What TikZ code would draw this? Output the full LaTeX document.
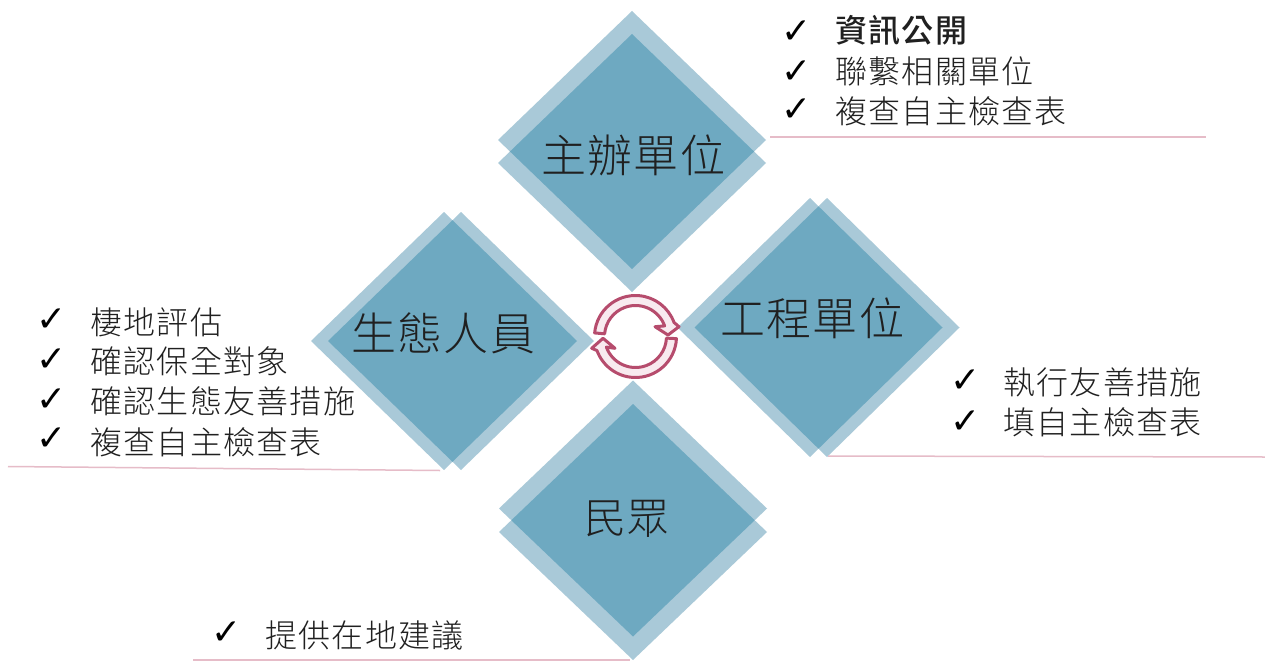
\documentclass[tikz,border=0pt]{standalone}
\usepackage{fontspec}
\usetikzlibrary{calc}
\newfontfamily\cjk[LetterSpace=4,BoldFont={Noto Sans CJK TC Medium}]{Noto Sans CJK TC Light}
\newfontfamily\cjkbig[LetterSpace=2.5]{Noto Sans CJK TC Light}
\newfontfamily\chk{DejaVu Sans}
\definecolor{gemlight}{HTML}{A9C9D8}
\definecolor{gemdark}{HTML}{6EA9C1}
\definecolor{rule}{HTML}{E6BCC8}
\definecolor{ringline}{HTML}{B64C6D}
\definecolor{ringfill}{HTML}{F8EAEF}
\definecolor{ink}{HTML}{202020}
\tikzset{
  x=1pt,y=-1pt,
  item/.style={anchor=base west,inner sep=0pt,text=ink,font=\cjk\fontsize{32}{32}\selectfont},
  tick/.style={anchor=center,inner sep=0pt,text=black,font=\chk\fontsize{36}{36}\selectfont},
  gemlabel/.style={anchor=base west,inner sep=0pt,text=ink,font=\cjkbig\fontsize{45}{45}\selectfont},
  rulerline/.style={draw=rule,line width=1.5pt},
  ringarrow/.style={draw=ringline,fill=ringfill,line width=3pt,line join=round}
}
% #1,#2 centre of first sheet; #3,#4 centre of second sheet; half width, half height
\newcommand{\gem}[6]{%
  \fill[gemlight] (#1-#5,#2)--(#1,#2-#6)--(#1+#5,#2)--(#1,#2+#6)--cycle;
  \fill[gemlight] (#3-#5,#4)--(#3,#4-#6)--(#3+#5,#4)--(#3,#4+#6)--cycle;
  \begin{scope}
    \clip (#1-#5,#2)--(#1,#2-#6)--(#1+#5,#2)--(#1,#2+#6)--cycle;
    \fill[gemdark] (#3-#5,#4)--(#3,#4-#6)--(#3+#5,#4)--(#3,#4+#6)--cycle;
  \end{scope}}
\begin{document}
\begin{tikzpicture}
\useasboundingbox (0,0) rectangle (1265,661);
\fill[white] (0,0) rectangle (1265,661);
\gem{632}{140}{632}{163}{134}{129}
\gem{444}{341}{461}{341}{133}{129}
\gem{810}{327.5}{827}{327.5}{132.5}{129.5}
\gem{633}{508.5}{633}{532}{134}{128}
% rules
\coordinate (r1a) at (770,137); \coordinate (r1b) at (1206,137);
\coordinate (r2a) at (8,466.5); \coordinate (r2b) at (440,470.5);
\coordinate (r3a) at (828,456); \coordinate (r3b) at (1265,457);
\coordinate (r4a) at (193,660); \coordinate (r4b) at (630,660);
\draw[rulerline] (r1a)--(r1b);
\draw[rulerline] (r2a)--(r2b);
\draw[rulerline] (r3a)--(r3b);
\draw[rulerline] (r4a)--(r4b);
% cycle ring
\coordinate (C) at (635.5,336.5);
\path[ringarrow] ($(C)+(-175:41)$) arc[start angle=-175,end angle=-20,radius=41]
  -- (679,326.7) -- (668,335) -- (655,326.7)
  -- ($(C)+(-20:31)$) arc[start angle=-20,end angle=-175,radius=31] -- cycle;
\path[ringarrow] ($(C)+(3:41)$) arc[start angle=3,end angle=160,radius=41]
  -- (591.7,348.3) -- (603,338.3) -- (615,348.3)
  -- ($(C)+(160:31)$) arc[start angle=160,end angle=3,radius=31] -- cycle;
% gem labels
\node[gemlabel] (g1) at (541.5,172) {主辦單位};
\node[gemlabel] (g2) at (351.5,350) {生態人員};
\node[gemlabel] (g3) at (720.5,335) {工程單位};
\node[gemlabel,font=\cjkbig\fontsize{42}{42}\selectfont] (g4) at (584,533) {民眾};
% top list
\node[tick] (t1) at (797,32) {✓};
\node[tick] (t2) at (797,72) {✓};
\node[tick] (t3) at (797,110) {✓};
\node[item] (a1) at (835,43) {\bfseries 資訊公開};
\node[item] (a2) at (835,83) {聯繫相關單位};
\node[item] (a3) at (835,123) {複查自主檢查表};
% left list
\node[tick] (t4) at (52,320) {✓};
\node[tick] (t5) at (52,360) {✓};
\node[tick] (t6) at (52,400) {✓};
\node[tick] (t7) at (52,439) {✓};
\node[item] (b1) at (90,334) {棲地評估};
\node[item] (b2) at (90,373) {確認保全對象};
\node[item] (b3) at (90,413) {確認生態友善措施};
\node[item] (b4) at (90,454) {複查自主檢查表};
% right list
\node[tick] (t8) at (966,381) {✓};
\node[tick] (t9) at (966,422) {✓};
\node[item] (c1) at (1003,394) {執行友善措施};
\node[item] (c2) at (1003,434) {填自主檢查表};
% bottom list
\node[tick] (t10) at (227,633) {✓};
\node[item] (d1) at (265,647) {提供在地建議};
\end{tikzpicture}
\end{document}
